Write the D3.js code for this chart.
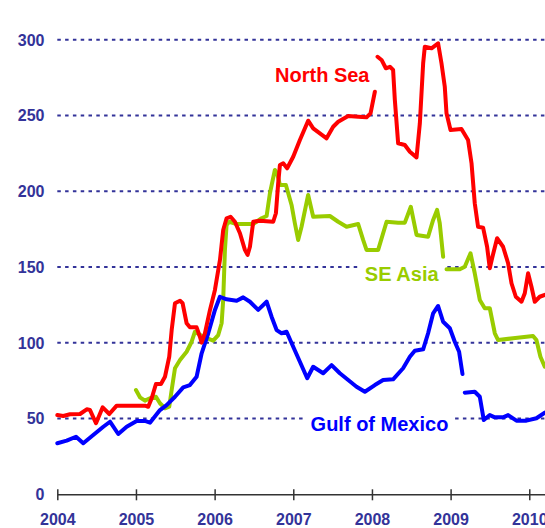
<!DOCTYPE html>
<html>
<head>
<meta charset="utf-8">
<script src="https://cdn.jsdelivr.net/npm/d3@7/dist/d3.min.js"></script>
<style>
  html, body { margin: 0; padding: 0; background: #fff; }
  svg { display: block; }
  text { font-family: "Liberation Sans", Arial, Helvetica, sans-serif; font-weight: bold; }
</style>
</head>
<body>
<svg id="chart" width="545" height="528"></svg>
<script>
// ---------- data (decimal year, value) ; null = gap ----------
const yearTicks = [2004, 2005, 2006, 2007, 2008, 2009, 2010];
const valueTicks = [0, 50, 100, 150, 200, 250, 300];

const northSeaYears = [2004.0,2004.076,2004.161,2004.289,2004.374,2004.416,2004.492,2004.577,2004.661,2004.755,2004.924,2005.115,2005.156,2005.2,2005.254,2005.318,2005.369,2005.423,2005.454,2005.496,2005.56,2005.593,2005.644,2005.686,2005.771,2005.813,2005.835,2005.877,2005.941,2006.004,2006.068,2006.109,2006.152,2006.203,2006.258,2006.322,2006.385,2006.419,2006.449,2006.491,2006.576,2006.745,2006.779,2006.808,2006.83,2006.872,2006.922,2006.999,2007.084,2007.189,2007.253,2007.338,2007.423,2007.507,2007.571,2007.698,2007.825,2007.931,2007.982,2008.037,2008.054,2008.071,2008.122,2008.177,2008.228,2008.269,2008.291,2008.333,2008.418,2008.482,2008.567,2008.609,2008.651,2008.672,2008.757,2008.841,2008.884,2008.926,2008.948,2008.999,2009.138,2009.222,2009.266,2009.307,2009.349,2009.413,2009.464,2009.498,2009.532,2009.591,2009.667,2009.731,2009.774,2009.829,2009.901,2009.943,2009.985,2010.028,2010.07,2010.133,2010.197];
const northSeaValues = [52.3,51.7,52.8,53.0,56.1,55.6,46.9,57.4,53.0,58.5,58.5,58.5,57.8,63.4,72.8,72.8,77.6,90.8,108.4,126.1,127.8,126.1,112.9,110.2,110.2,104.0,100.1,106.3,121.7,134.9,154.7,174.5,182.2,183.2,179.9,172.3,161.3,158.0,163.4,179.9,180.6,179.9,185.5,205.3,217.4,218.5,215.2,222.8,233.9,246.6,241.6,238.3,235.0,242.6,245.9,249.7,249.2,248.8,251.5,265.7,null,288.8,286.7,281.2,282.2,280.1,260.3,231.7,230.6,226.1,222.4,244.9,284.5,295.4,294.4,297.7,284.5,269.0,251.5,240.5,241.1,233.9,218.5,192.1,176.6,176.0,163.4,149.2,156.8,169.0,163.4,152.5,139.3,130.4,127.1,132.7,145.9,137.0,127.1,130.4,131.6];

const seAsiaYears = [2005.0,2005.051,2005.114,2005.178,2005.254,2005.305,2005.369,2005.423,2005.454,2005.496,2005.56,2005.644,2005.708,2005.75,2005.855,2005.982,2006.046,2006.089,2006.109,2006.131,2006.152,2006.186,2006.28,2006.49,2006.597,2006.661,2006.703,2006.766,2006.795,2006.83,2006.906,2006.978,2007.02,2007.062,2007.105,2007.189,2007.253,2007.465,2007.571,2007.677,2007.825,2007.888,2007.931,2008.079,2008.186,2008.333,2008.418,2008.494,2008.567,2008.714,2008.778,2008.828,2008.862,2008.905,2008.926,2008.948,2009.117,2009.18,2009.253,2009.307,2009.371,2009.434,2009.498,2009.562,2009.604,2009.794,2010.048,2010.091,2010.142,2010.197];
const seAsiaValues = [68.8,64.0,61.8,63.4,64.4,60.1,56.8,57.8,68.8,83.2,88.6,94.1,100.7,107.3,104.0,101.4,105.1,112.9,128.3,161.3,177.8,179.9,178.4,178.4,182.2,183.7,198.7,214.1,211.9,204.2,204.2,191.0,178.9,167.9,176.6,197.6,183.2,183.7,179.9,176.6,178.4,167.9,161.3,161.3,179.9,179.3,179.3,189.8,171.2,170.0,181.1,187.7,178.9,156.8,null,148.5,148.5,150.2,159.1,145.9,128.3,122.8,122.8,106.3,101.8,103.0,104.5,101.8,90.8,84.2];

const gulfYears = [2004.0,2004.119,2004.238,2004.33,2004.457,2004.585,2004.67,2004.775,2004.882,2005.009,2005.114,2005.178,2005.305,2005.39,2005.496,2005.601,2005.686,2005.771,2005.835,2005.919,2006.004,2006.067,2006.152,2006.28,2006.363,2006.449,2006.554,2006.661,2006.724,2006.788,2006.851,2006.915,2006.999,2007.084,2007.177,2007.253,2007.38,2007.487,2007.592,2007.698,2007.804,2007.91,2008.037,2008.142,2008.269,2008.396,2008.482,2008.545,2008.651,2008.714,2008.778,2008.841,2008.905,2008.99,2009.053,2009.108,2009.151,2009.165,2009.18,2009.307,2009.371,2009.422,2009.498,2009.562,2009.667,2009.731,2009.837,2009.964,2010.091,2010.197];
const gulfValues = [33.7,35.4,38.0,33.7,39.1,44.6,47.9,39.8,44.6,48.4,48.4,47.3,55.6,58.9,64.4,70.6,72.1,77.6,93.1,106.3,121.7,130.4,128.7,127.8,130.0,127.1,121.7,127.1,117.2,108.4,106.3,107.3,97.4,87.5,76.6,84.2,79.9,85.3,79.9,75.4,71.0,67.7,72.1,75.4,75.9,83.2,90.8,94.8,95.7,106.3,119.5,124.3,113.9,109.6,100.7,94.1,79.4,null,67.1,67.7,64.4,49.0,52.3,50.8,50.8,52.3,48.6,48.6,50.2,53.9];

const seriesNames = ["SE Asia", "Gulf of Mexico", "North Sea"];
const seriesColors = ["#99cc00", "#0000ff", "#ff0000"];
const labelYears = [2007.91, 2007.22, 2006.768];
const labelValues = [140.8, 42, 272];

// ---------- setup ----------
const svg = d3.select("#chart");
const W = 545, H = 528;
const x = d3.scaleLinear().domain([2004, 2010.2]).range([57.3, 545]);
const y = d3.scaleLinear().domain([0, 300]).range([494.3, 39.8]);

const navy = "#333399";

// gridlines
svg.append("g").selectAll("line")
  .data(valueTicks.filter(v => v > 0))
  .join("line")
  .attr("x1", x.range()[0]).attr("x2", x.range()[1])
  .attr("y1", d => y(d)).attr("y2", d => y(d))
  .attr("stroke", navy).attr("stroke-width", 2)
  .attr("stroke-dasharray", "3.5,4.3");

// y labels
svg.append("g").selectAll("text")
  .data(valueTicks)
  .join("text")
  .attr("x", 44.5).attr("y", d => y(d))
  .attr("dy", "0.36em")
  .attr("text-anchor", "end")
  .attr("font-size", 16)
  .attr("fill", navy)
  .text(d => d);

// x axis
const xAxis = d3.axisBottom(x).tickValues(yearTicks).tickFormat(d3.format("d")).tickSizeOuter(0);
const gx = svg.append("g").attr("transform", `translate(0,${y(0)})`).call(xAxis);
gx.select(".domain").attr("stroke", "#333").attr("stroke-width", 1.5);
gx.selectAll(".tick line").attr("y1", -5).attr("y2", 6).attr("stroke", "#333").attr("stroke-width", 1.5);
gx.selectAll(".tick text")
  .attr("y", 19).attr("dy", "0.71em")
  .attr("font-size", 16).attr("font-weight", "bold")
  .attr("font-family", "'Liberation Sans', Arial, sans-serif")
  .attr("fill", navy);

// series
const series = [
  { years: seAsiaYears, values: seAsiaValues },
  { years: gulfYears, values: gulfValues },
  { years: northSeaYears, values: northSeaValues }
];

// label backgrounds (break gridlines)
const labelG = svg.append("g");
const labelTexts = seriesNames.map((name, i) => labelG.append("text")
  .attr("x", x(labelYears[i])).attr("y", y(labelValues[i]))
  .attr("font-size", 20)
  .attr("fill", seriesColors[i])
  .text(name));
labelTexts.forEach(t => {
  const b = t.node().getBBox();
  labelG.insert("rect", "text")
    .attr("x", b.x - 6).attr("y", b.y + 1)
    .attr("width", b.width + 12).attr("height", b.height - 2)
    .attr("fill", "#fff");
});

const line = d3.line()
  .defined(d => d[1] !== null)
  .x(d => x(d[0])).y(d => y(d[1]))
  .curve(d3.curveLinear);

const linesG = svg.append("g");
series.forEach((s, i) => {
  const pts = s.years.map((yr, j) => [yr, s.values[j]]);
  linesG.append("path")
    .datum(pts)
    .attr("d", line)
    .attr("fill", "none")
    .attr("stroke", seriesColors[i])
    .attr("stroke-width", 4)
    .attr("stroke-linejoin", "round")
    .attr("stroke-linecap", "round");
});

// raise label texts above lines
labelTexts.forEach(t => svg.node().appendChild(t.node()));
</script>
</body>
</html>
